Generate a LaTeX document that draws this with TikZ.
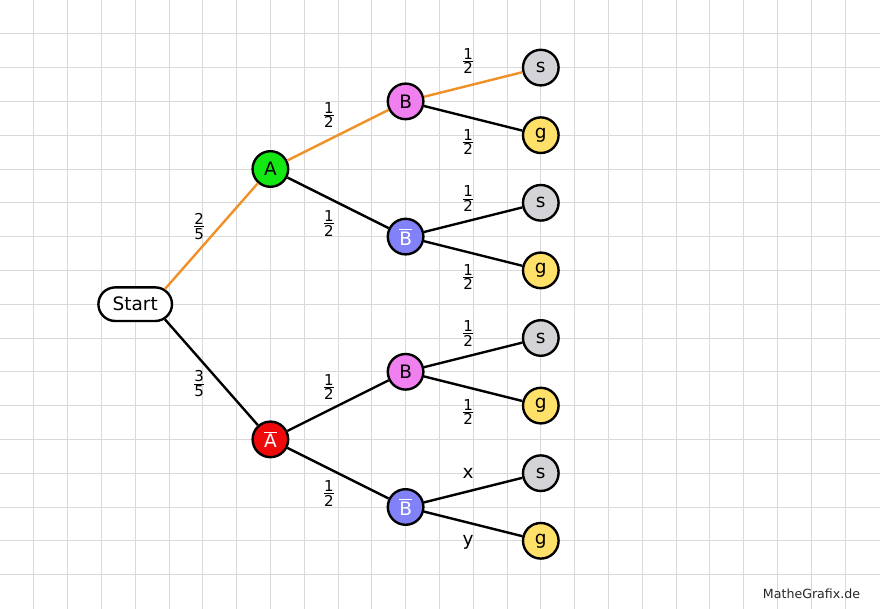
\documentclass[tikz,border=0pt]{standalone}
\usepackage{amsmath}
\usepackage{fontspec}
\setmainfont{DejaVu Sans}
\usepackage{tikz}
\usetikzlibrary{positioning, shapes.misc}
\definecolor{gridgray}{gray}{0.85}
\definecolor{pathorange}{RGB}{240,145,40}
\definecolor{agreen}{RGB}{20,232,20}
\definecolor{ared}{RGB}{238,10,10}
\definecolor{bpink}{RGB}{240,128,240}
\definecolor{bblue}{RGB}{130,130,248}
\definecolor{sgray}{RGB}{212,212,216}
\definecolor{gyellow}{RGB}{255,224,104}

\newcommand{\fr}[2]{$\genfrac{}{}{0.9pt}{}{\mbox{#1}}{\mbox{#2}}$}
\newcommand{\nicht}[1]{$\overline{\mbox{#1}}$}

\tikzset{
	gridline/.style={gridgray, line width=0.8pt},
	edge/.style={line width=2.4pt},
	hot/.style={edge, pathorange},
	knot/.style={circle, draw, line width=2.4pt, minimum size=35.6pt, inner sep=0pt, font=\fontsize{18.5}{20}\selectfont},
	startbox/.style={rounded rectangle, draw, line width=2.4pt, minimum width=73.6pt, minimum height=33.6pt, inner sep=0pt, font=\fontsize{18.5}{20}\selectfont},
	lbl/.style={inner sep=0pt, text=black, font=\fontsize{15}{17}\selectfont},
}

\begin{document}
\begin{tikzpicture}[x=33.8pt, y=-33.8pt]

\def \xmax{26.036}
\def \ymax{18.018}

\useasboundingbox (0,0) rectangle (\xmax,\ymax);

\foreach \i in {1,...,25} {
	\draw[gridline] (\i,0) -- (\i,\ymax); % vertical grid line
}
\foreach \j in {1,...,17} {
	\draw[gridline] (0,\j) -- (\xmax,\j); % horizontal grid line
}

% level 0 and 1
\node[startbox, fill=white] (start) at (4,9) {Start};
\node[knot, fill=agreen] (A) at (8,5) {A};
\node[knot, fill=ared, text=white] (nA) at (8,13) {\nicht{A}};

% level 2
\node[knot, fill=bpink] (AB) at (12,3) {B};
\node[knot, fill=bblue, text=white] (AnB) at (12,7) {\nicht{B}};
\node[knot, fill=bpink] (nAB) at (12,11) {B};
\node[knot, fill=bblue, text=white] (nAnB) at (12,15) {\nicht{B}};

% leaves
\foreach \k in {1,...,4} {
	\node[knot, fill=sgray] (s\k) at (16,4*\k-2) {s};
	\node[knot, fill=gyellow] (g\k) at (16,4*\k) {g};
}

\draw[hot] (start.27) -- (A) node[lbl] (p1) at (5.89,6.70) {\fr25};
\draw[edge] (start.-27) -- (nA) node[lbl] (p2) at (5.89,11.35) {\fr35};

\draw[hot] (A) -- (AB) node[lbl] (p3) at (9.73,3.40) {\fr12};
\draw[edge] (A) -- (AnB) node[lbl] (p4) at (9.73,6.61) {\fr12};
\draw[edge] (nA) -- (nAB) node[lbl] (p5) at (9.73,11.45) {\fr12};
\draw[edge] (nA) -- (nAnB) node[lbl] (p6) at (9.73,14.60) {\fr12};

\draw[hot] (AB) -- (s1) node[lbl] (p7) at (13.85,1.80) {\fr12};
\draw[edge] (AB) -- (g1) node[lbl] (p8) at (13.85,4.20) {\fr12};
\draw[edge] (AnB) -- (s2) node[lbl] (p9) at (13.85,5.88) {\fr12};
\draw[edge] (AnB) -- (g2) node[lbl] (p10) at (13.85,8.19) {\fr12};
\draw[edge] (nAB) -- (s3) node[lbl] (p11) at (13.85,9.86) {\fr12};
\draw[edge] (nAB) -- (g3) node[lbl] (p12) at (13.85,12.19) {\fr12};
\draw[edge] (nAnB) -- (s4) node[lbl, font=\fontsize{18.5}{20}\selectfont] (px) at (13.85,14.0) {x};
\draw[edge] (nAnB) -- (g4) node[lbl, font=\fontsize{18.5}{20}\selectfont] (py) at (13.85,16.05) {y};

\node[font=\fontsize{12.6}{14}\selectfont, text=black!85] (credit) at (24.01,17.56) {MatheGrafix.de};

\end{tikzpicture}
\end{document}
